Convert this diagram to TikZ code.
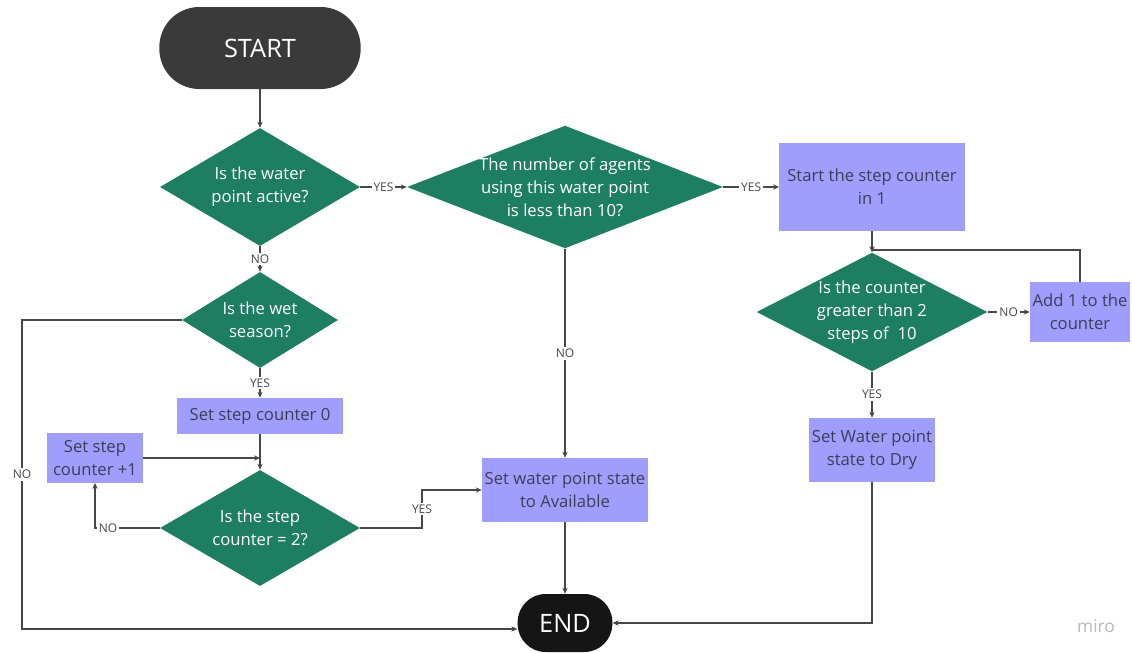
\documentclass[tikz,border=0pt]{standalone}
\usepackage{fontspec}
\setmainfont{Open Sans}
\usetikzlibrary{arrows.meta, shapes.geometric}
\definecolor{flowGreen}{HTML}{1E7E62}
\definecolor{flowLav}{HTML}{A09EFD}
\definecolor{flowInk}{HTML}{3E3D58}
\definecolor{flowLine}{HTML}{474747}
\definecolor{flowStart}{HTML}{3A3A3A}
\definecolor{flowEnd}{HTML}{151515}
\tikzset{
  flowfig/.style={
    x=0.75pt, y=-0.75pt,
    >={Stealth[length=4.5pt, width=4pt]},
  },
  terminal/.style={
    fill=flowStart, text=white, rounded corners=30pt,
    font=\fontsize{19}{22}\selectfont, inner sep=0pt,
  },
  % Raute ohne eigenen Text, der Text sitzt als Label in der Mitte
  decision/.style={
    diamond, fill=flowGreen, inner sep=0pt,
  },
  dtext/.style={
    text=white, align=center, inner sep=0pt,
    font=\fontsize{12.5}{17.2}\selectfont,
  },
  procbox/.style={
    rectangle, fill=flowLav, text=flowInk, align=center, inner sep=1pt,
    font=\fontsize{12.5}{17.2}\selectfont,
  },
  flow/.style={draw=flowLine, line width=0.9pt, ->},
  joinline/.style={draw=flowLine, line width=0.9pt},
  % Beschriftung liegt auf der Linie und unterbricht sie
  lbl/.style={fill=white, text=flowLine, inner sep=1.5pt,
    font=\fontsize{9}{10}\selectfont},
}
\begin{document}
\begin{tikzpicture}[flowfig]
  \path[use as bounding box, fill=white] (0,0) rectangle (1132,653);
  \node[terminal, minimum width=151pt, minimum height=61.5pt] (Start) at (260,48) {START};
  \node[decision, minimum width=150pt, minimum height=88.5pt,
    label={[dtext]center:Is the water\\point active?}] (WaterActive) at (260,187) {};
  \node[decision, minimum width=237pt, minimum height=92pt,
    label={[dtext]center:The number of agents\\using this water point\\is less than 10?}] (AgentsLess) at (565,187) {};
  \node[procbox, minimum width=139pt, minimum height=66pt] (StartCounter) at (872,187) {Start the step counter\\in 1};
  \node[decision, minimum width=173pt, minimum height=89pt,
    label={[dtext]center:Is the counter\\greater than 2\\steps of \ 10}] (CounterCheck) at (872,312) {};
  \node[procbox, minimum width=75pt, minimum height=45pt] (AddOne) at (1080,312) {Add 1 to the\\counter};
  \node[procbox, minimum width=94pt, minimum height=48pt] (SetDry) at (872,450) {Set Water point\\state to Dry};
  \node[procbox, minimum width=124.5pt, minimum height=48pt] (SetAvailable) at (565,490) {Set water point state\\to Available};
  \node[decision, minimum width=117pt, minimum height=72pt,
    label={[dtext]center:Is the wet\\season?}] (WetSeason) at (260,320) {};
  \node[procbox, minimum width=124.5pt, minimum height=27pt] (SetZero) at (260,416) {Set step counter 0};
  \node[procbox, minimum width=72pt, minimum height=37pt] (StepPlus) at (95,458) {Set step\\counter +1};
  \node[decision, minimum width=150pt, minimum height=87pt,
    label={[dtext]center:Is the step\\counter = 2?}] (StepCheck) at (260,528) {};
  \node[terminal, fill=flowEnd, rounded corners=21pt, minimum width=71pt, minimum height=43.5pt] (End) at (565,623) {END};
  \node[text=black!28, font=\fontsize{13}{15}\selectfont] (Miro) at (1096,626) {miro};
  \coordinate (LoopJoin) at (872,250);
  \coordinate (WetNoBend) at (22,629);
  \coordinate (YesStepBend) at (422,490);

  \draw[flow] (Start) -- (WaterActive);
  \draw[flow] (WaterActive) -- node[lbl] {YES} (AgentsLess);
  \draw[flow] (AgentsLess) -- node[lbl] {YES} (StartCounter);
  \draw[flow] (StartCounter) -- (CounterCheck);
  \draw[flow] (CounterCheck) -- node[lbl] {NO} (AddOne);
  \draw[joinline] (AddOne.north) |- (LoopJoin);
  \draw[flow] (CounterCheck) -- node[lbl] {YES} (SetDry);
  \draw[flow] (SetDry.south) |- (End.east);
  \draw[flow] (AgentsLess) -- node[lbl] {NO} (SetAvailable);
  \draw[flow] (SetAvailable) -- (End);
  \draw[flow] (WaterActive) -- node[lbl] {NO} (WetSeason);
  \draw[flow] (WetSeason.west) -| node[lbl, pos=0.75] {NO} (WetNoBend) -- (WetNoBend -| End.west);
  \draw[flow] (WetSeason) -- node[lbl] {YES} (SetZero);
  \draw[flow] (SetZero) -- (StepCheck);
  \draw[flow] (StepPlus.east) -- (StepPlus.east -| StepCheck.north);
  \draw[flow] (StepCheck.west) -| node[lbl, pos=0.4] {NO} (StepPlus.south);
  \draw[flow] (StepCheck.east) -| node[lbl, pos=0.75] {YES} (YesStepBend) -- (SetAvailable.west);
\end{tikzpicture}
\end{document}
